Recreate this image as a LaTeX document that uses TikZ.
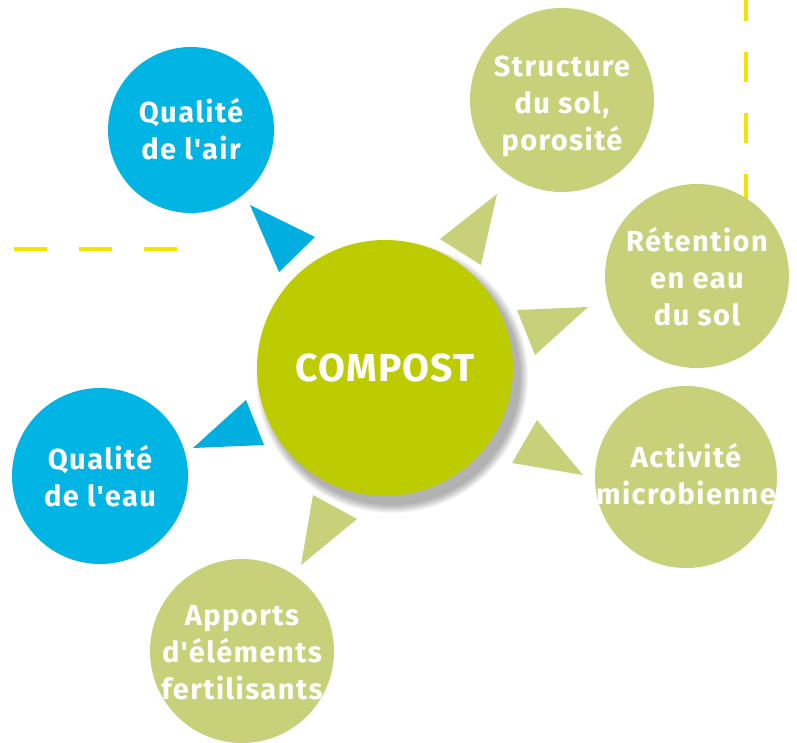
\documentclass[tikz,border=0pt]{standalone}
\usepackage{fontspec}
\setmainfont{Fira Sans}
\newfontfamily\labfont{Fira Sans}[LetterSpace=5]
\newfontfamily\mainlabfont{Fira Sans}[LetterSpace=3]
\definecolor{cblue}{RGB}{0,180,228}
\definecolor{cblueT}{RGB}{0,174,224}
\definecolor{cgreen}{RGB}{189,204,0}
\definecolor{colive}{RGB}{201,208,122}
\definecolor{cdash}{RGB}{240,228,0}
\tikzset{
  bubble/.style={circle, inner sep=0pt},
  bubtext/.style={text=white, align=center, inner sep=0pt,
    font=\labfont\fontsize{29}{37}\selectfont\bfseries},
  bluebub/.style={bubble, fill=cblue},
  olivebub/.style={bubble, fill=colive},
  maincirc/.style={circle, inner sep=0pt, fill=cgreen, text=white,
    font=\mainlabfont\fontsize{39}{45}\selectfont\bfseries},
  bluetri/.style={fill=cblueT},
  olivetri/.style={fill=colive},
  dashline/.style={draw=cdash, line width=4.5pt}
}
\begin{document}
\begin{tikzpicture}[x=1pt,y=-1pt]
\useasboundingbox (0,0) rectangle (797,742);
% dashed lines
\draw[dashline, dash pattern=on 33pt off 32pt] (14,249) -- (180,249);
\draw[dashline, dash pattern=on 30pt off 31pt] (746,-9) -- (746,215);
% shadow of main circle
\foreach \k in {0,...,9}{
  \fill[black, opacity=0.035] (392,377) circle[radius={128+\k*0.9}];
}
% circles
\node[maincirc, minimum size=256pt] (compost) at (385,368) {COMPOST};
\node[bluebub, minimum size=166pt] (air) at (191,130) {};
\node[bluebub, minimum size=176pt] (eau) at (100,476) {};
\node[olivebub, minimum size=184pt] (struct) at (562,100) {};
\node[olivebub, minimum size=184pt] (ret) at (697,276) {};
\node[olivebub, minimum size=182pt] (micro) at (686,477) {};
\node[olivebub, minimum size=184pt] (apports) at (242,651) {};
% texts
\node[bubtext] (airT) at ([yshift=1pt]air.center) {Qualité\\de l'air};
\node[bubtext] (eauT) at (eau.center) {Qualité\\de l'eau};
\node[bubtext] (structT) at ([yshift=-6pt]struct.center) {Structure\\du sol,\\porosité};
\node[bubtext] (retT) at ([yshift=-1pt]ret.center) {Rétention\\en eau\\du sol};
\node[bubtext] (microT) at ([yshift=3pt]micro.center) {Activité\\microbienne};
\node[bubtext] (apportsT) at ([yshift=-2pt]apports.center) {Apports\\d'éléments\\fertilisants};
% triangles (arrows)
\fill[bluetri] (250,205) -- (315,237) -- (279,272) -- cycle;
\fill[bluetri] (246,400) -- (264,445) -- (193,448) -- cycle;
\fill[olivetri] (497,194) -- (481,265) -- (440,239) -- cycle;
\fill[olivetri] (517,310) -- (588,307) -- (535,355) -- cycle;
\fill[olivetri] (537,420) -- (583,475) -- (512,463) -- cycle;
\fill[olivetri] (313,495) -- (357,519) -- (301,565) -- cycle;
\end{tikzpicture}
\end{document}
